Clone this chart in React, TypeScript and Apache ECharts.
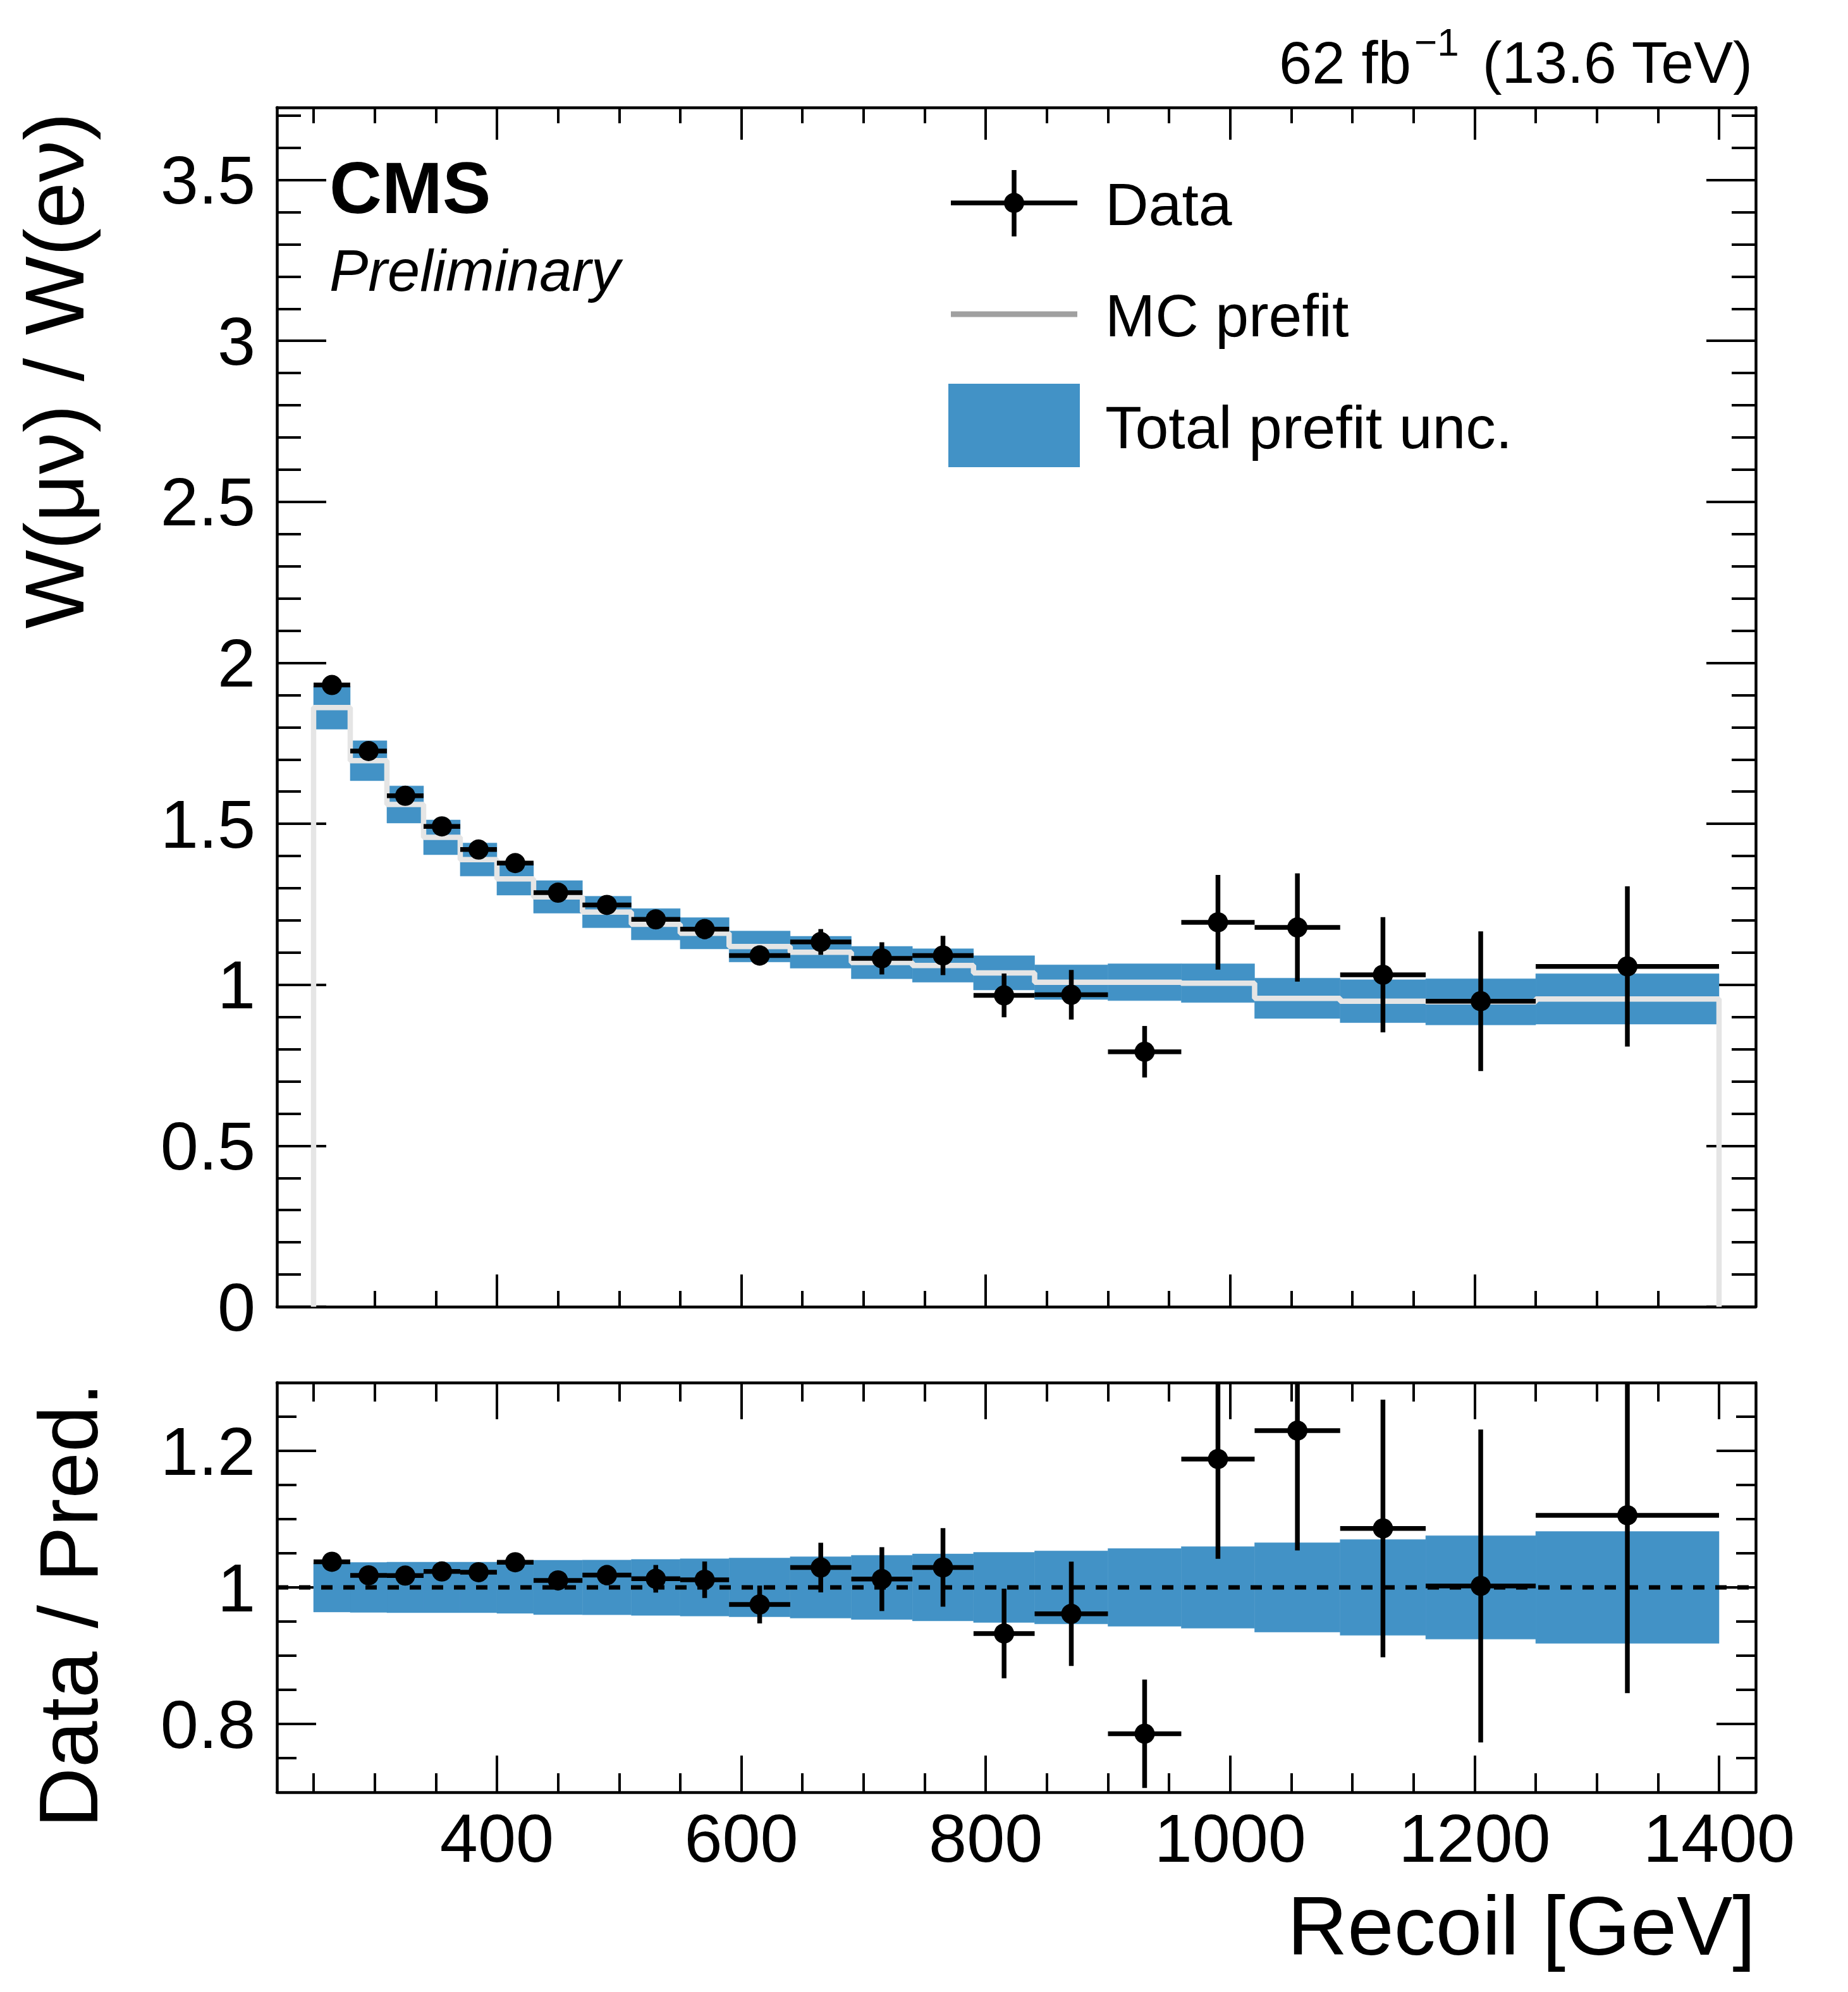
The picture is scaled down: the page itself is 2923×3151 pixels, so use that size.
import { useEffect, useRef } from "react";
import * as echarts from "echarts";

// Recoil binning [GeV]
const EDGES = [250, 280, 310, 340, 370, 400, 430, 470, 510, 550, 590, 640, 690, 740, 790, 840, 900, 960, 1020, 1090, 1160, 1250, 1400];

// W(mu nu) / W(e nu) in data
const DATA = [1.931, 1.726, 1.587, 1.492, 1.42, 1.378, 1.286, 1.248, 1.203, 1.173, 1.091, 1.133, 1.082, 1.091, 0.967, 0.969, 0.792, 1.194, 1.178, 1.031, 0.949, 1.057];
const DATA_ERR = [0.012, 0.012, 0.012, 0.013, 0.014, 0.016, 0.015, 0.018, 0.024, 0.031, 0.031, 0.04, 0.05, 0.061, 0.068, 0.077, 0.08, 0.147, 0.168, 0.179, 0.217, 0.249];

// MC prefit ratio and its relative total uncertainty
const MC_PREFIT = [1.861, 1.696, 1.56, 1.458, 1.389, 1.329, 1.273, 1.226, 1.188, 1.16, 1.119, 1.101, 1.069, 1.06, 1.037, 1.008, 1.008, 1.005, 0.958, 0.949, 0.947, 0.956];
const REL_UNC = [0.036, 0.0366, 0.037, 0.037, 0.037, 0.038, 0.0398, 0.04, 0.041, 0.042, 0.043, 0.045, 0.047, 0.049, 0.0513, 0.0534, 0.0569, 0.0598, 0.0654, 0.0702, 0.0758, 0.082];

// ticks
const X_TICKS = [400, 600, 800, 1000, 1200, 1400];
const X_MINOR = [250, 300, 350, 450, 500, 550, 650, 700, 750, 850, 900, 950, 1050, 1100, 1150, 1250, 1300, 1350];
const Y_MAIN_TICKS = [0, 0.5, 1, 1.5, 2, 2.5, 3, 3.5];
const Y_MAIN_MINOR = Array.from({ length: 37 }, (_, i) => +((i + 1) * 0.1).toFixed(1));
const Y_RATIO_TICKS = [0.8, 1, 1.2];
const Y_RATIO_MINOR = [0.75, 0.85, 0.9, 0.95, 1.05, 1.1, 1.15, 1.25];

const X_MIN = 220;
const X_MAX = 1430;

const W = 2923;
const H = 3151;
const FONT = '"Liberation Sans", Arial, Helvetica, sans-serif';
const BAND = "#4292c6";

const tick = (values: number[], length: number, show = true) => ({
  show,
  inside: true,
  customValues: values,
  length,
  lineStyle: { color: "#000", width: 4 },
});

function xAxes(gridIndex: number, majorLen: number, minorLen: number, labels: boolean) {
  const base = {
    type: "value",
    gridIndex,
    min: X_MIN,
    max: X_MAX,
    splitLine: { show: false },
    axisLabel: { show: false },
    axisLine: { show: false, onZero: false },
  };
  return [
    {
      ...base,
      position: "bottom",
      axisLine: { show: true, onZero: false, lineStyle: { color: "#000", width: 4.5 } },
      axisTick: tick(X_TICKS, majorLen),
      axisLabel: labels
        ? {
            show: true,
            customValues: X_TICKS,
            formatter: (v: number) => String(v),
            fontSize: 108,
            lineHeight: 96,
            fontFamily: FONT,
            color: "#000",
            margin: 24,
          }
        : { show: false },
    },
    { ...base, position: "bottom", axisTick: tick(X_MINOR, minorLen) },
    {
      ...base,
      position: "top",
      axisLine: { show: true, onZero: false, lineStyle: { color: "#000", width: 4.5 } },
      axisTick: tick(X_TICKS, majorLen),
    },
    { ...base, position: "top", axisTick: tick(X_MINOR, minorLen) },
  ];
}

function yAxes(gridIndex: number, min: number, max: number, major: number[], minor: number[], majorLen: number, minorLen: number) {
  const base = {
    type: "value",
    gridIndex,
    min,
    max,
    splitLine: { show: false },
    axisLabel: { show: false },
    axisLine: { show: false, onZero: false },
  };
  return [
    {
      ...base,
      position: "left",
      axisLine: { show: true, onZero: false, lineStyle: { color: "#000", width: 4.5 } },
      axisTick: tick(major, majorLen),
      axisLabel: {
        show: true,
        customValues: major,
        formatter: (v: number) => String(v),
        fontSize: 108,
        fontFamily: FONT,
        color: "#000",
        margin: 34,
      },
    },
    { ...base, position: "left", axisTick: tick(minor, minorLen) },
    {
      ...base,
      position: "right",
      axisLine: { show: true, onZero: false, lineStyle: { color: "#000", width: 4.5 } },
      axisTick: tick(major, majorLen),
    },
    { ...base, position: "right", axisTick: tick(minor, minorLen) },
  ];
}

const bandItem = (params: any, api: any) => {
  const p0 = api.coord([api.value(0), api.value(3)]);
  const p1 = api.coord([api.value(1), api.value(2)]);
  return {
    type: "rect",
    shape: { x: p0[0], y: p0[1], width: p1[0] - p0[0], height: p1[1] - p0[1] },
    style: { fill: BAND, stroke: BAND, lineWidth: 0.5 },
  };
};

const errItem = (params: any, api: any) => {
  const xc = api.value(0);
  const y = api.value(1);
  const e = api.value(2);
  const l = api.coord([api.value(3), y]);
  const r = api.coord([api.value(4), y]);
  const t = api.coord([xc, y + e]);
  const b = api.coord([xc, y - e]);
  const c = api.coord([xc, y]);
  const ls = { stroke: "#000", lineWidth: 7.5 };
  return {
    type: "group",
    children: [
      { type: "line", shape: { x1: l[0], y1: l[1], x2: r[0], y2: r[1] }, style: ls },
      { type: "line", shape: { x1: t[0], y1: t[1], x2: b[0], y2: b[1] }, style: ls },
      { type: "circle", shape: { cx: c[0], cy: c[1], r: 16 }, style: { fill: "#000" } },
    ],
  };
};

export default function App() {
  const ref = useRef<HTMLDivElement>(null);

  useEffect(() => {
    if (!ref.current) return;
    document.body.style.margin = "0";
    const chart = echarts.init(ref.current, null, { renderer: "svg", width: W, height: H });

    const nBins = DATA.length;
    const centers = DATA.map((_, i) => (EDGES[i] + EDGES[i + 1]) / 2);

    // MC step line with drops to zero at both ends
    const mcLine: number[][] = [[EDGES[0], 0]];
    MC_PREFIT.forEach((v, i) => {
      mcLine.push([EDGES[i], v]);
      mcLine.push([EDGES[i + 1], v]);
    });
    mcLine.push([EDGES[nBins], 0]);

    const mainBand = MC_PREFIT.map((v, i) => [EDGES[i], EDGES[i + 1], v * (1 - REL_UNC[i]), v * (1 + REL_UNC[i])]);
    const ratioBand = REL_UNC.map((u, i) => [EDGES[i], EDGES[i + 1], 1 - u, 1 + u]);
    const mainPts = DATA.map((v, i) => [centers[i], v, DATA_ERR[i], EDGES[i], EDGES[i + 1]]);
    const ratioPts = DATA.map((v, i) => [centers[i], v / MC_PREFIT[i], DATA_ERR[i] / MC_PREFIT[i], EDGES[i], EDGES[i + 1]]);

    const text = (t: string, x: number, y: number, size: number, extra: any = {}, styleExtra: any = {}) => ({
      type: "text",
      x,
      y,
      ...extra,
      style: {
        text: t,
        fill: "#000",
        fontSize: size,
        fontFamily: FONT,
        align: "left",
        verticalAlign: "middle",
        textAlign: "left",
        textVerticalAlign: "middle",
        ...styleExtra,
      },
      z: 20,
    });

    chart.setOption({
      animation: false,
      backgroundColor: "#fff",
      grid: [
        { left: 438, top: 170, width: 2339, height: 1897, outerBoundsMode: "none" },
        { left: 438, top: 2187, width: 2339, height: 648, outerBoundsMode: "none" },
      ],
      xAxis: [...xAxes(0, 51, 25, false), ...xAxes(1, 58, 30, true)],
      yAxis: [
        ...yAxes(0, 0, 3.725, Y_MAIN_TICKS, Y_MAIN_MINOR, 78, 38),
        ...yAxes(1, 0.7, 1.3, Y_RATIO_TICKS, Y_RATIO_MINOR, 62, 31),
      ],
      series: [
        { type: "custom", xAxisIndex: 0, yAxisIndex: 0, z: 1, clip: true, data: mainBand, renderItem: bandItem },
        {
          type: "line",
          xAxisIndex: 0,
          yAxisIndex: 0,
          z: 2,
          data: mcLine,
          showSymbol: false,
          symbol: "none",
          lineStyle: { color: "#e5e5e5", width: 8.5 },
        },
        { type: "custom", xAxisIndex: 0, yAxisIndex: 0, z: 3, clip: true, data: mainPts, renderItem: errItem },
        { type: "custom", xAxisIndex: 4, yAxisIndex: 4, z: 1, clip: true, data: ratioBand, renderItem: bandItem },
        {
          type: "line",
          xAxisIndex: 4,
          yAxisIndex: 4,
          z: 2,
          data: [[X_MIN, 1], [X_MAX, 1]],
          showSymbol: false,
          symbol: "none",
          lineStyle: { color: "#000", width: 7, type: [18, 17] },
        },
        { type: "custom", xAxisIndex: 4, yAxisIndex: 4, z: 3, clip: true, data: ratioPts, renderItem: errItem },
      ],
      graphic: [
        // header texts
        text("CMS", 521, 297, 115, {}, { fontWeight: "bold" }),
        text("Preliminary", 521, 428, 92, {}, { fontStyle: "italic" }),
        text("62 fb", 2232, 99, 94, {}, { align: "right", textAlign: "right" }),
        text("\u22121", 2237, 66, 62),
        text("(13.6 TeV)", 2772, 99, 93, {}, { align: "right", textAlign: "right" }),
        // axis titles
        text("Recoil [GeV]", 2777, 3046, 132, {}, { align: "right", textAlign: "right", lineHeight: 112 }),
        text("W(\u03bc\u03bd) / W(e\u03bd)", 86, 178, 132, { rotation: Math.PI / 2 }, { align: "right", textAlign: "right" }),
        text("Data / Pred.", 108, 2187, 132, { rotation: Math.PI / 2 }, { align: "right", textAlign: "right" }),
        // legend: Data
        { type: "line", shape: { x1: 1504, y1: 321, x2: 1704, y2: 321 }, style: { stroke: "#000", lineWidth: 7.5 }, z: 20 },
        { type: "line", shape: { x1: 1604, y1: 269, x2: 1604, y2: 374 }, style: { stroke: "#000", lineWidth: 7.5 }, z: 20 },
        { type: "circle", shape: { cx: 1604, cy: 321, r: 16 }, style: { fill: "#000" }, z: 20 },
        text("Data", 1748, 323, 95),
        // legend: MC prefit
        { type: "line", shape: { x1: 1504, y1: 497, x2: 1704, y2: 497 }, style: { stroke: "#a0a0a0", lineWidth: 9 }, z: 20 },
        text("MC prefit", 1748, 499, 95),
        // legend: band
        { type: "rect", shape: { x: 1500, y: 607, width: 208, height: 132 }, style: { fill: BAND }, z: 20 },
        text("Total prefit unc.", 1748, 676, 95),
      ],
    });

    return () => chart.dispose();
  }, []);

  return <div ref={ref} style={{ width: W, height: H }} />;
}
